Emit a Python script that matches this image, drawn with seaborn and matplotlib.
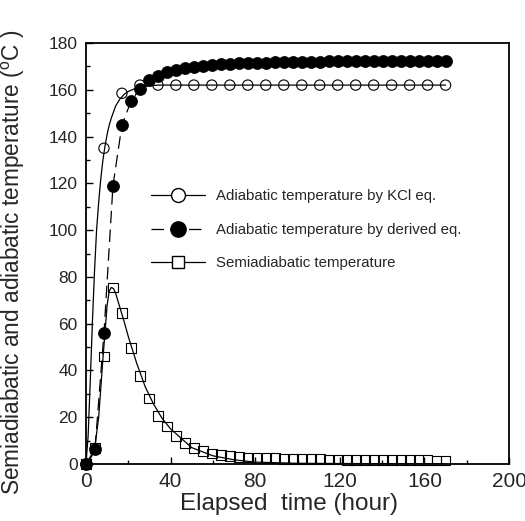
import numpy as np
import pandas as pd
import matplotlib
matplotlib.use("Agg")
import matplotlib.pyplot as plt
from matplotlib.lines import Line2D
from matplotlib.ticker import MultipleLocator
import seaborn as sns

# ---------------- data ----------------
# marker points
kcl_x = [0, 8.5, 17, 25.5, 34, 42.5, 51, 59.5, 68, 76.5, 85, 93.5, 102, 110.5,
         119, 127.5, 136, 144.5, 153, 161.5, 170]
kcl_y = [0, 135, 158.5, 162, 162, 162, 162, 162, 162, 162, 162, 162, 162, 162,
         162, 162, 162, 162, 162, 162, 162]

der_x = [0, 4.25, 8.5, 12.75, 17, 21.25, 25.5, 29.75, 34, 38.25, 42.5, 46.75,
         51, 55.25, 59.5, 63.75, 68, 72.25, 76.5, 80.75, 85, 89.25, 93.5, 97.75,
         102, 106.25, 110.5, 114.75, 119, 123.25, 127.5, 131.75, 136, 140.25,
         144.5, 148.75, 153, 157.25, 161.5, 165.75, 170]
der_y = [0, 6.5, 56, 119, 145, 155, 160.5, 164, 166, 167.5, 168.5, 169.3,
         169.9, 170.3, 170.6, 170.9, 171.1, 171.3, 171.4, 171.5, 171.6, 171.7,
         171.8, 171.85, 171.9, 172.0, 172.0, 172.1, 172.1, 172.2, 172.2, 172.2,
         172.3, 172.3, 172.3, 172.4, 172.4, 172.4, 172.4, 172.5, 172.5]

semi_x = der_x
semi_y = [0, 7, 46, 75.5, 64.5, 49.5, 37.5, 28, 20.5, 16, 12, 9, 7, 5.5, 4.5,
          3.8, 3.3, 3.0, 2.8, 2.6, 2.5, 2.4, 2.3, 2.2, 2.1, 2.0, 2.0, 1.9, 1.9,
          1.8, 1.8, 1.8, 1.7, 1.7, 1.7, 1.6, 1.6, 1.6, 1.6, 1.5, 1.5]

# fitted curves
kcl_fit_x = [0, 1, 2, 3, 4, 5, 6, 7, 8, 9, 10, 11, 12, 14, 16, 18, 20, 24, 28,
             34, 40, 60, 170]
kcl_fit_y = [0, 12, 35, 60, 82, 100, 112, 122, 130, 136, 141, 145, 148, 153,
             156, 158, 159.3, 160.8, 161.5, 162, 162, 162, 162]

semi_fit_x = [0, 2, 4, 6, 8, 10, 11, 12, 13, 14, 16, 18, 20, 24, 28, 32, 36,
              40, 50, 60, 70, 80, 100, 170]
semi_fit_y = [0, 2, 6, 20, 45, 68, 74, 75.5, 75, 73, 67, 61, 54.5, 43, 33, 25.5,
              19.5, 15, 7, 3.5, 1.8, 0.8, 0.3, 0]

labels = ["Adiabatic temperature by KCl eq.",
          "Adiabatic temperature by derived eq.",
          "Semiadiabatic temperature"]
xlabel = "Elapsed  time (hour)"
ylabel = r"Semiadiabatic and adiabatic temperature ($^\mathregular{o}$C )"

# ---------------- style ----------------
sns.set_style("ticks")
plt.rcParams["font.family"] = ["Liberation Sans", "DejaVu Sans"]
plt.rcParams["mathtext.fontset"] = "custom"
plt.rcParams["mathtext.rm"] = "Liberation Sans"

fig = plt.figure(figsize=(5.25, 5.21), dpi=100)
ax = fig.add_axes([86 / 525, 57 / 521, 423 / 525, 421 / 521])

lw = 0.9
# lines
sns.lineplot(x=kcl_fit_x, y=kcl_fit_y, ax=ax, color="black", lw=lw,
             estimator=None, sort=False)
sns.lineplot(x=der_x, y=der_y, ax=ax, color="black", lw=lw,
             estimator=None, sort=False)
ax.lines[-1].set_dashes((10, 5))
sns.lineplot(x=semi_fit_x, y=semi_fit_y, ax=ax, color="black", lw=lw,
             estimator=None, sort=False)

# markers
sns.scatterplot(x=semi_x, y=semi_y, ax=ax, marker="s", s=50,
                facecolor="none", edgecolor="black", linewidth=0.8,
                clip_on=False, zorder=3)
sns.scatterplot(x=kcl_x, y=kcl_y, ax=ax, marker="o", s=55,
                facecolor="none", edgecolor="black", linewidth=0.8,
                clip_on=False, zorder=3)
sns.scatterplot(x=der_x, y=der_y, ax=ax, marker="o", s=75,
                color="black", edgecolor="black", linewidth=0.5,
                clip_on=False, zorder=4)

ax.set_xlim(0, 200)
ax.set_ylim(0, 180)
ax.xaxis.set_major_locator(MultipleLocator(40))
ax.xaxis.set_minor_locator(MultipleLocator(20))
ax.yaxis.set_major_locator(MultipleLocator(20))
ax.yaxis.set_minor_locator(MultipleLocator(10))
ax.tick_params(which="both", direction="in", color="black", width=1.0)
ax.tick_params(which="major", length=5)
ax.tick_params(which="minor", length=3)
ax.tick_params(axis="x", labelsize=15, pad=6)
ax.tick_params(axis="y", labelsize=12.5, pad=6)
for sp in ax.spines.values():
    sp.set_visible(True)
    sp.set_linewidth(1.3)
    sp.set_color("black")

ax.set_xlabel(xlabel, fontsize=17.5, labelpad=0)
ax.set_ylabel(ylabel, fontsize=16.3)
ax.yaxis.set_label_coords(-0.14, 0.48)
ax.xaxis.set_label_coords(0.48, -0.068)

handles = [
    Line2D([], [], color="black", lw=lw, marker="o", markersize=10,
           markerfacecolor="white", markeredgecolor="black"),
    Line2D([], [], color="black", lw=lw, marker="o", markersize=11,
           markerfacecolor="black", markeredgecolor="black", dashes=(10, 5)),
    Line2D([], [], color="black", lw=lw, marker="s", markersize=9,
           markerfacecolor="white", markeredgecolor="black"),
]
leg = ax.legend(handles, labels, loc="upper left",
                bbox_to_anchor=(143 / 525, 1 - 182 / 521),
                bbox_transform=fig.transFigure, frameon=False, fontsize=10.8,
                handlelength=3.6, handletextpad=0.8, labelspacing=1.3,
                borderpad=0)

fig.savefig("out.png", dpi=100)
